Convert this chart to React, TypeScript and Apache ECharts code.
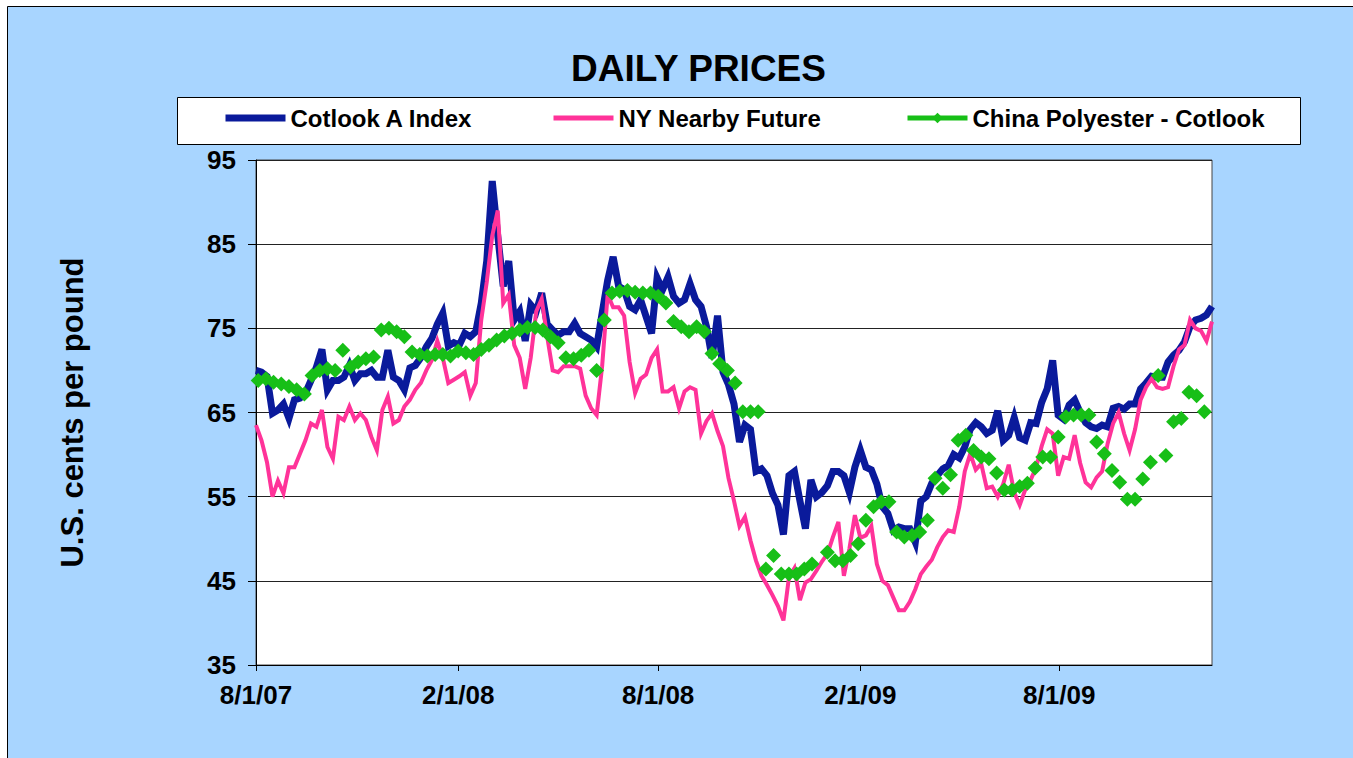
import React, { useEffect, useRef } from "react";
import * as echarts from "echarts";

// ---------- data ----------
const SERIES_NAMES = ["Cotlook A Index", "NY Nearby Future", "China Polyester - Cotlook"];

// daily series sampled every 5 days from 8/1/07
const DAILY_START = "2007-08-01";
const DAILY_STEP_DAYS = 5;
// weekly series from 8/3/07
const WEEKLY_START = "2007-08-03";
const WEEKLY_STEP_DAYS = 7;

const X_MIN = "2007-08-01";
const X_MAX = "2009-12-18";
const X_TICKS = ["2007-08-01", "2008-02-01", "2008-08-01", "2009-02-01", "2009-08-01"];

const Y_MIN = 35;
const Y_MAX = 95;
const Y_STEP = 10;

const cotlookA = [
  70.0, 69.8, 69.3, 64.9, 65.3, 66.0, 64.3, 66.5, 66.7, 67.3,
  68.8, 70.4, 72.5, 67.7, 68.8, 68.8, 69.2, 70.6, 68.8, 69.6,
  69.6, 70.0, 69.2, 69.2, 72.4, 69.2, 68.8, 67.7, 70.3, 70.6,
  71.5, 72.8, 73.8, 75.5, 76.8, 72.9, 73.3, 73.0, 74.4, 74.0,
  74.6, 78.0, 83.0, 92.5, 86.0, 80.0, 83.0, 76.0, 77.0, 73.5,
  77.8, 77.0, 79.2, 75.5, 74.8, 74.2, 74.6, 74.6, 75.6, 74.4,
  74.0, 73.6, 72.8, 76.8, 80.7, 83.5, 80.0, 79.6, 77.6, 77.2,
  78.4, 76.4, 74.4, 81.0, 79.6, 81.1, 78.8, 78.0, 78.4, 80.3,
  78.4, 77.6, 75.2, 71.5, 76.5, 69.8, 68.3, 66.0, 61.5, 63.5,
  63.0, 58.0, 58.3, 57.5, 55.4, 54.0, 50.5, 57.5, 58.0, 54.5,
  51.2, 57.0, 55.0, 55.5, 56.3, 58.0, 58.0, 57.5, 55.5, 58.5,
  60.5, 58.5, 58.2, 56.5, 53.8, 53.0, 51.0, 51.4, 51.2, 51.2,
  49.6, 54.5, 55.0, 56.6, 57.5, 58.3, 58.7, 60.0, 59.6, 60.9,
  63.0, 63.8, 63.3, 62.5, 62.9, 65.2, 61.7, 62.3, 64.4, 62.0,
  61.7, 63.8, 63.7, 66.2, 67.8, 71.2, 64.7, 64.2, 65.9, 66.5,
  65.0, 63.8, 63.3, 63.1, 63.5, 63.3, 65.5, 65.7, 65.4, 66.0,
  66.0, 67.8, 68.5, 69.3, 69.2, 69.2, 71.0, 71.8, 72.4, 73.4,
  75.2, 76.0, 76.2, 76.6, 77.6,
];

const nyNearby = [
  63.5, 61.7, 59.1, 55.0, 56.9, 55.4, 58.5, 58.5, 60.1, 61.7,
  63.7, 63.3, 65.3, 60.9, 59.5, 64.5, 64.1, 65.7, 64.1, 64.9,
  64.1, 62.1, 60.5, 65.3, 66.9, 63.7, 64.1, 65.7, 66.5, 67.7,
  68.5, 70.0, 71.2, 73.5, 71.5, 68.5, 68.9, 69.3, 69.8, 67.0,
  68.5, 76.0, 80.5, 86.0, 89.0, 78.0, 79.0, 73.0, 71.5, 67.8,
  71.5, 77.0, 78.5, 74.0, 70.0, 69.8, 70.5, 70.5, 70.5, 70.2,
  67.0, 65.5, 64.7, 70.5, 79.0, 77.5, 77.5, 76.5, 71.0, 67.3,
  69.0, 69.5, 71.5, 72.5, 67.5, 67.5, 68.0, 65.5, 67.5, 68.0,
  67.7, 62.5, 64.0, 64.9, 62.8, 61.0, 57.2, 54.5, 51.5, 52.6,
  49.8, 47.4, 45.6, 44.5, 43.3, 42.0, 40.3, 45.4, 46.5, 42.7,
  44.8, 45.2, 46.2, 47.3, 48.2, 50.2, 52.0, 45.6, 48.8, 52.8,
  50.1, 50.4, 51.5, 47.0, 45.0, 44.5, 43.0, 41.5, 41.5, 42.5,
  44.0, 45.8, 46.7, 47.5, 49.0, 50.2, 51.0, 50.8, 53.8, 58.0,
  60.1, 58.2, 58.9, 56.0, 56.2, 55.0, 56.5, 58.8, 55.5, 54.0,
  55.8, 57.0, 58.5, 61.0, 63.0, 62.5, 57.5, 59.7, 59.5, 62.3,
  59.0, 56.7, 56.1, 57.3, 58.0, 61.3, 63.7, 65.0, 62.5, 60.5,
  63.0, 66.5, 68.0, 69.0, 68.0, 67.8, 68.0, 70.5, 72.5, 73.0,
  76.0, 75.0, 74.7, 73.5, 75.8,
];

const chinaPolyester = [
  68.8, 69.0, 68.6, 68.4, 68.1, 67.7, 67.2, 69.4, 70.0, 70.2,
  70.0, 72.4, 70.4, 71.0, 71.4, 71.6, 74.8, 75.0, 74.6, 74.0,
  72.2, 71.9, 71.7, 71.9, 71.9, 71.7, 72.3, 72.1, 71.9, 72.5,
  73.0, 73.6, 74.1, 74.4, 74.8, 75.1, 75.1, 74.8, 74.0, 73.3,
  71.5, 71.4, 71.8, 72.4, 70.0, 76.0, 79.2, 79.4, 79.5, 79.3,
  79.2, 79.2, 78.8, 78.0, 75.8, 75.2, 74.6, 75.2, 74.6, 72.0,
  70.8, 70.0, 68.5, 65.1, 65.1, 65.1, 46.4, 48.0, 45.8, 45.8,
  45.8, 46.4, 47.0, null, 48.4, 47.4, 47.4, 48.0, 49.4, 52.2,
  53.8, 54.4, 54.4, 50.8, 50.2, 50.4, 50.8, 52.2, 57.2, 56.0,
  57.6, 61.7, 62.3, 60.5, 59.7, 59.5, 57.8, 55.8, 55.8, 56.2,
  56.6, 58.4, 59.7, 59.7, 62.1, 64.5, 64.7, 64.7, 64.7, 61.5,
  60.1, 58.1, 56.7, 54.7, 54.7, 57.1, 59.1, 69.4, 59.9, 63.9,
  64.3, 67.4, 67.0, 65.1,
];

// ---------- styles ----------
const BLUE = "#0A1A9B";
const PINK = "#FF3399";
const GREEN = "#17BF17";
const BG_BLUE = "#A8D5FF";
const FONT = "'Liberation Sans', Arial, sans-serif";

const DAY_MS = 86400000;
const ts = (s: string) => Date.parse(s + "T00:00:00Z");
const ORIGIN = ts(X_MIN);
// x axis measured in days since the first date
const dayOf = (s: string) => Math.round((ts(s) - ORIGIN) / DAY_MS);

function withDays(values: (number | null)[], start: string, stepDays: number) {
  const d0 = dayOf(start);
  return values.map((v, i) => [d0 + i * stepDays, v]);
}

function fmtDay(day: number) {
  const d = new Date(ORIGIN + Math.round(day) * DAY_MS);
  return `${d.getUTCMonth() + 1}/${d.getUTCDate()}/${String(d.getUTCFullYear()).slice(2)}`;
}

export default function App() {
  const ref = useRef<HTMLDivElement>(null);

  useEffect(() => {
    if (!ref.current) return;
    const chart = echarts.init(ref.current, null, { renderer: "svg" });
    const tickValues = X_TICKS.map(dayOf);

    const legendBase = {
      top: 106,
      padding: 0,
      itemWidth: 60,
      itemHeight: 13,
      selectedMode: false,
      textStyle: { fontSize: 24, fontWeight: "bold", color: "#000", fontFamily: FONT },
    };

    chart.setOption({
      animation: false,
      backgroundColor: "#ffffff",
      title: {
        text: "DAILY PRICES",
        left: 566,
        top: 45,
        textStyle: { fontSize: 37, fontWeight: "bold", color: "#000", fontFamily: FONT },
      },
      graphic: [
        {
          type: "rect",
          z: -10,
          shape: { x: 7.5, y: 6.5, width: 1400, height: 800 },
          style: { fill: BG_BLUE, stroke: "#000", lineWidth: 1 },
        },
        {
          type: "rect",
          z: 0,
          shape: { x: 177.5, y: 97.5, width: 1123, height: 47 },
          style: { fill: "#fff", stroke: "#000", lineWidth: 1 },
        },
      ],
      legend: [
        {
          ...legendBase,
          left: 222,
          data: [{ name: SERIES_NAMES[0], lineStyle: { width: 7, color: BLUE }, itemStyle: { opacity: 0 } }],
        },
        {
          ...legendBase,
          left: 551,
          data: [{ name: SERIES_NAMES[1], lineStyle: { width: 5, color: PINK }, itemStyle: { opacity: 0 } }],
        },
        {
          ...legendBase,
          left: 905,
          data: [{ name: SERIES_NAMES[2], lineStyle: { width: 5, color: GREEN }, itemStyle: { color: GREEN } }],
        },
      ],
      grid: {
        left: 256,
        top: 160,
        width: 956,
        height: 505,
        show: true,
        backgroundColor: "#fff",
        borderColor: "#444",
        borderWidth: 1,
        containLabel: false,
      },
      xAxis: {
        type: "value",
        min: dayOf(X_MIN),
        max: dayOf(X_MAX),
        axisLine: { show: true, lineStyle: { color: "#000", width: 1 } },
        axisTick: { show: true, length: 6, customValues: tickValues, lineStyle: { color: "#000" } },
        axisLabel: {
          customValues: tickValues,
          formatter: (v: number) => fmtDay(v),
          margin: 17,
          fontSize: 26,
          fontWeight: "bold",
          color: "#000",
          fontFamily: FONT,
          hideOverlap: false,
        },
        splitLine: { show: false },
      },
      yAxis: {
        type: "value",
        min: Y_MIN,
        max: Y_MAX,
        interval: Y_STEP,
        name: "U.S. cents per pound",
        nameLocation: "middle",
        nameRotate: 90,
        nameGap: 168,
        nameTextStyle: { fontSize: 31, fontWeight: "bold", color: "#000", fontFamily: FONT },
        axisLine: { show: true, lineStyle: { color: "#000", width: 1 } },
        axisTick: { show: true, length: 8, lineStyle: { color: "#000" } },
        axisLabel: { margin: 20, fontSize: 26, fontWeight: "bold", color: "#000", fontFamily: FONT },
        splitLine: { show: true, lineStyle: { color: "#222", width: 1 } },
      },
      series: [
        {
          name: SERIES_NAMES[0],
          type: "line",
          data: withDays(cotlookA, DAILY_START, DAILY_STEP_DAYS),
          symbol: "none",
          lineStyle: { color: BLUE, width: 7, join: "miter" },
          itemStyle: { color: BLUE },
          z: 2,
        },
        {
          name: SERIES_NAMES[1],
          type: "line",
          data: withDays(nyNearby, DAILY_START, DAILY_STEP_DAYS),
          symbol: "none",
          lineStyle: { color: PINK, width: 4, join: "miter" },
          itemStyle: { color: PINK },
          z: 3,
        },
        {
          name: SERIES_NAMES[2],
          type: "line",
          data: withDays(chinaPolyester, WEEKLY_START, WEEKLY_STEP_DAYS),
          symbol: "diamond",
          symbolSize: 15,
          showSymbol: true,
          showAllSymbol: true,
          connectNulls: false,
          lineStyle: { width: 0, color: GREEN },
          itemStyle: { color: GREEN },
          z: 4,
        },
      ],
    });

    return () => chart.dispose();
  }, []);

  return (
    <div
      ref={ref}
      style={{ position: "fixed", left: 0, top: 0, width: 1353, height: 758 }}
    />
  );
}
